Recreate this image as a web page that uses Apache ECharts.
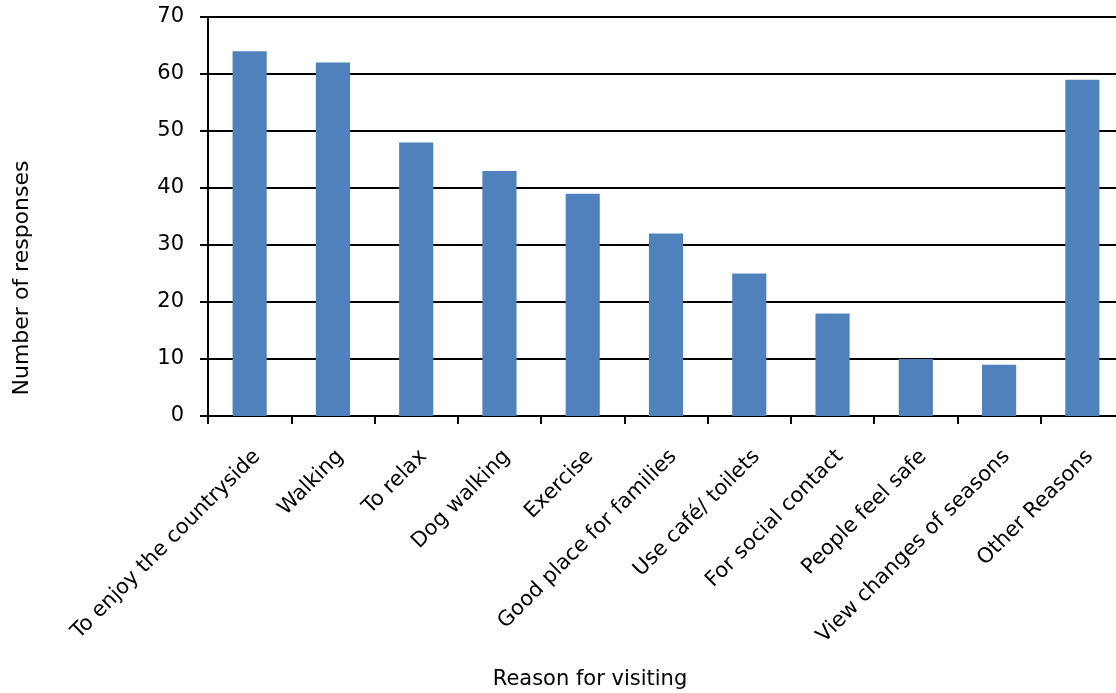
<!DOCTYPE html>
<html>
<head>
<meta charset="utf-8">
<script src="https://cdn.jsdelivr.net/npm/echarts@6/dist/echarts.min.js"></script>
<style>html,body{margin:0;padding:0;background:#fff;overflow:hidden;width:1116px;height:693px}#c{width:1124px;height:693px}</style>
</head>
<body>
<div id="c"></div>
<script>
const categories = ["To enjoy the countryside","Walking","To relax","Dog walking","Exercise","Good place for families","Use café/ toilets","For social contact","People feel safe","View changes of seasons","Other Reasons"];
const responses = [64, 62, 48, 43, 39, 32, 25, 18, 10, 9, 59];
const yTicks = [0, 10, 20, 30, 40, 50, 60, 70];
const xTitle = "Reason for visiting";
const yTitle = "Number of responses";

const FONT = "DejaVu Sans";
const chart = echarts.init(document.getElementById('c'));
chart.setOption({
  animation: false,
  textStyle: {fontFamily: FONT},
  grid: {left: 208, top: 17, width: 916, height: 399, containLabel: false},
  xAxis: {
    type: 'category',
    data: categories,
    axisLine: {lineStyle: {color: '#000', width: 2}},
    axisTick: {show: true, length: 8, lineStyle: {color: '#000', width: 2}, alignWithLabel: false},
    axisLabel: {rotate: 45, margin: 30, fontSize: 21, color: '#000', fontFamily: FONT, interval: 0, align: 'right', verticalAlign: 'top'}
  },
  yAxis: {
    type: 'value',
    min: yTicks[0], max: yTicks[yTicks.length - 1], interval: 10,
    axisLine: {show: true, lineStyle: {color: '#000', width: 2}},
    axisTick: {show: true, length: 8, lineStyle: {color: '#000', width: 2}},
    axisLabel: {margin: 24, fontSize: 21, color: '#000', fontFamily: FONT},
    splitLine: {show: true, lineStyle: {color: '#000', width: 2}}
  },
  series: [{
    type: 'bar',
    data: responses,
    barWidth: '41%',
    itemStyle: {color: '#4F81BD'}
  }],
  graphic: [
    {type: 'text', style: {text: xTitle, font: '21px "' + FONT + '"', fill: '#000', textAlign: 'center', textVerticalAlign: 'middle'}, x: 590, y: 680},
    {type: 'text', style: {text: yTitle, font: '22px "' + FONT + '"', fill: '#000', textAlign: 'center', textVerticalAlign: 'middle'}, x: 22, y: 278, rotation: Math.PI / 2}
  ]
});
</script>
</body>
</html>
